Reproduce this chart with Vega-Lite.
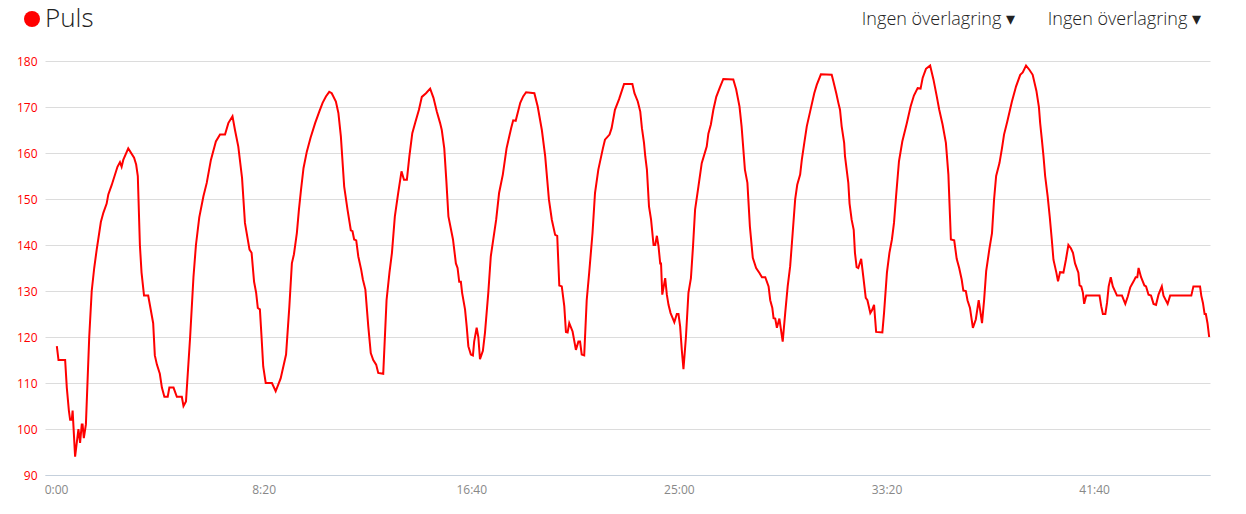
{
  "$schema": "https://vega.github.io/schema/vega-lite/v6.json",
  "width": 1165,
  "height": 414,
  "autosize": {"type": "none"},
  "padding": {"left": 45, "top": 61, "right": 36, "bottom": 39},
  "background": "white",
  "config": {"view": {"stroke": null}, "font": "Open Sans"},
  "title": {
    "text": "Ingen överlagring ▾\u00a0\u00a0\u00a0\u00a0\u00a0\u00a0\u00a0Ingen överlagring ▾",
    "anchor": "end",
    "frame": "group",
    "fontSize": 18,
    "fontWeight": 300,
    "font": "Open Sans Light, Open Sans",
    "color": "#222222",
    "offset": -23,
    "dx": -9
  },
  "data": {"values": [
    {"t":2,"hr":118},{"t":6,"hr":115},{"t":22,"hr":115},{"t":26,"hr":109},{"t":31,"hr":104},{"t":34,"hr":102},{"t":38,"hr":102},{"t":40,"hr":104},{"t":46,"hr":94},{"t":54,"hr":100},{"t":58,"hr":97},{"t":62,"hr":101},{"t":64,"hr":101},{"t":67,"hr":98},{"t":72,"hr":101},{"t":80,"hr":120},{"t":86,"hr":130},{"t":92,"hr":135},{"t":98,"hr":139},{"t":108,"hr":145},{"t":114,"hr":147},{"t":122,"hr":149},{"t":126,"hr":151},{"t":134,"hr":153},{"t":148,"hr":157},{"t":154,"hr":158},{"t":158,"hr":157},{"t":162,"hr":158.5},{"t":174,"hr":161},{"t":188,"hr":159},{"t":193,"hr":157.5},{"t":197,"hr":155},{"t":202,"hr":140},{"t":206,"hr":134},{"t":212,"hr":129},{"t":222,"hr":129},{"t":226,"hr":127},{"t":234,"hr":123},{"t":238,"hr":116},{"t":243,"hr":114},{"t":250,"hr":112},{"t":255,"hr":109},{"t":261,"hr":107},{"t":269,"hr":107},{"t":273,"hr":109},{"t":283,"hr":109},{"t":291,"hr":107},{"t":303,"hr":107},{"t":307,"hr":105},{"t":313,"hr":106},{"t":323,"hr":120},{"t":331,"hr":133},{"t":337,"hr":140},{"t":345,"hr":146},{"t":355,"hr":150.6},{"t":363,"hr":153.5},{"t":373,"hr":158.5},{"t":385,"hr":162.5},{"t":395,"hr":164},{"t":407,"hr":164},{"t":415,"hr":166.5},{"t":425,"hr":168},{"t":431,"hr":165},{"t":439,"hr":161.4},{"t":448,"hr":154.6},{"t":455,"hr":144.8},{"t":466,"hr":139},{"t":471,"hr":138.3},{"t":477,"hr":132},{"t":482,"hr":129.6},{"t":486,"hr":126.3},{"t":491,"hr":126},{"t":495,"hr":120},{"t":499,"hr":113.6},{"t":505,"hr":110},{"t":520,"hr":110},{"t":529,"hr":108.2},{"t":541,"hr":111},{"t":554,"hr":116.2},{"t":562,"hr":126.7},{"t":568,"hr":136},{"t":573,"hr":138},{"t":580,"hr":142.6},{"t":585,"hr":147.7},{"t":590,"hr":152},{"t":596,"hr":156.7},{"t":604,"hr":160.3},{"t":613,"hr":163.3},{"t":624,"hr":166.5},{"t":634,"hr":169},{"t":642,"hr":170.9},{"t":650,"hr":172.3},{"t":658,"hr":173.3},{"t":664,"hr":173},{"t":674,"hr":171.2},{"t":680,"hr":168.7},{"t":686,"hr":163.6},{"t":694,"hr":152.7},{"t":702,"hr":147.7},{"t":710,"hr":143.2},{"t":714,"hr":143},{"t":718,"hr":141.2},{"t":723,"hr":141},{"t":728,"hr":137.5},{"t":735,"hr":134.6},{"t":739,"hr":132.5},{"t":745,"hr":130.3},{"t":752,"hr":122.3},{"t":758,"hr":116.5},{"t":764,"hr":115},{"t":771,"hr":114},{"t":776,"hr":112.2},{"t":788,"hr":112},{"t":796,"hr":128},{"t":803,"hr":134},{"t":809,"hr":138.3},{"t":816,"hr":146.2},{"t":824,"hr":151.3},{"t":832,"hr":156},{"t":838,"hr":154.2},{"t":845,"hr":154.2},{"t":851,"hr":159.3},{"t":858,"hr":164.3},{"t":866,"hr":166.9},{"t":874,"hr":169.4},{"t":881,"hr":172.2},{"t":891,"hr":173},{"t":901,"hr":174},{"t":909,"hr":172},{"t":917,"hr":169},{"t":925,"hr":166.5},{"t":929,"hr":165},{"t":935,"hr":161},{"t":940,"hr":154},{"t":945,"hr":146.2},{"t":956,"hr":141.2},{"t":963,"hr":136},{"t":967,"hr":135},{"t":971,"hr":132},{"t":975,"hr":132},{"t":978,"hr":129.6},{"t":985,"hr":126},{"t":989,"hr":122.3},{"t":993,"hr":118},{"t":999,"hr":116.2},{"t":1004,"hr":116},{"t":1007,"hr":119},{"t":1013,"hr":122},{"t":1017,"hr":120},{"t":1021,"hr":115.2},{"t":1028,"hr":117},{"t":1033,"hr":120.9},{"t":1041,"hr":129.6},{"t":1047,"hr":137.5},{"t":1053,"hr":141.2},{"t":1060,"hr":145.5},{"t":1067,"hr":151.3},{"t":1076,"hr":155.3},{"t":1085,"hr":161},{"t":1096,"hr":165.4},{"t":1101,"hr":167.1},{"t":1107,"hr":167},{"t":1118,"hr":170.9},{"t":1125,"hr":172.3},{"t":1132,"hr":173.2},{"t":1152,"hr":173},{"t":1160,"hr":170.1},{"t":1170,"hr":165},{"t":1178,"hr":159.3},{"t":1187,"hr":149.9},{"t":1194,"hr":145.5},{"t":1202,"hr":142.2},{"t":1207,"hr":142},{"t":1212,"hr":131.2},{"t":1218,"hr":131},{"t":1224,"hr":126.7},{"t":1228,"hr":121.1},{"t":1232,"hr":121},{"t":1236,"hr":123},{"t":1244,"hr":121.2},{"t":1252,"hr":117.2},{"t":1258,"hr":119},{"t":1262,"hr":119},{"t":1266,"hr":116.2},{"t":1272,"hr":116},{"t":1278,"hr":128},{"t":1284,"hr":134},{"t":1292,"hr":142.6},{"t":1298,"hr":151.3},{"t":1306,"hr":156.4},{"t":1317,"hr":161},{"t":1322,"hr":162.9},{"t":1333,"hr":164},{"t":1338,"hr":165.4},{"t":1346,"hr":169.4},{"t":1356,"hr":171.7},{"t":1368,"hr":175},{"t":1388,"hr":175},{"t":1393,"hr":173},{"t":1401,"hr":171.2},{"t":1407,"hr":169},{"t":1411,"hr":165.4},{"t":1416,"hr":162.2},{"t":1419,"hr":159.3},{"t":1423,"hr":156.4},{"t":1428,"hr":148.4},{"t":1433,"hr":145.5},{"t":1439,"hr":140},{"t":1443,"hr":140},{"t":1447,"hr":142},{"t":1451,"hr":139.7},{"t":1455,"hr":136},{"t":1457,"hr":136},{"t":1460,"hr":129.2},{"t":1467,"hr":132.8},{"t":1471,"hr":129.2},{"t":1475,"hr":127},{"t":1480,"hr":125.2},{"t":1485,"hr":124.1},{"t":1489,"hr":123.2},{"t":1495,"hr":125},{"t":1499,"hr":125},{"t":1503,"hr":122.3},{"t":1507,"hr":117.2},{"t":1511,"hr":113},{"t":1517,"hr":120},{"t":1523,"hr":129.6},{"t":1529,"hr":132.8},{"t":1534,"hr":139.7},{"t":1539,"hr":147.7},{"t":1547,"hr":152.7},{"t":1555,"hr":157.8},{"t":1567,"hr":161.4},{"t":1571,"hr":164.2},{"t":1577,"hr":166.2},{"t":1583,"hr":169.4},{"t":1590,"hr":172.2},{"t":1599,"hr":174.3},{"t":1607,"hr":176.1},{"t":1631,"hr":176},{"t":1638,"hr":173.8},{"t":1646,"hr":170.1},{"t":1651,"hr":165.8},{"t":1659,"hr":156.4},{"t":1665,"hr":153.5},{"t":1671,"hr":144},{"t":1678,"hr":137.2},{"t":1686,"hr":135},{"t":1694,"hr":133.9},{"t":1700,"hr":133},{"t":1708,"hr":133},{"t":1716,"hr":131},{"t":1720,"hr":128},{"t":1725,"hr":126.3},{"t":1728,"hr":124.1},{"t":1732,"hr":124},{"t":1736,"hr":122},{"t":1742,"hr":124},{"t":1750,"hr":119},{"t":1756,"hr":125.2},{"t":1762,"hr":131},{"t":1768,"hr":135.4},{"t":1774,"hr":142.6},{"t":1780,"hr":149.9},{"t":1785,"hr":153.1},{"t":1792,"hr":155.3},{"t":1796,"hr":158.5},{"t":1802,"hr":162.2},{"t":1808,"hr":165.8},{"t":1816,"hr":169},{"t":1826,"hr":173},{"t":1832,"hr":174.8},{"t":1842,"hr":177.1},{"t":1868,"hr":177},{"t":1872,"hr":175.6},{"t":1879,"hr":173},{"t":1884,"hr":170.9},{"t":1888,"hr":169.4},{"t":1892,"hr":165.8},{"t":1898,"hr":162.2},{"t":1900,"hr":159.3},{"t":1908,"hr":153.5},{"t":1911,"hr":149},{"t":1916,"hr":145.5},{"t":1921,"hr":143.3},{"t":1924,"hr":138.3},{"t":1928,"hr":135.2},{"t":1932,"hr":135},{"t":1939,"hr":137},{"t":1944,"hr":133.2},{"t":1950,"hr":128.5},{"t":1954,"hr":128},{"t":1961,"hr":125.2},{"t":1965,"hr":125.8},{"t":1970,"hr":127},{"t":1975,"hr":121.1},{"t":1990,"hr":121},{"t":1994,"hr":125.2},{"t":2001,"hr":134},{"t":2007,"hr":138.3},{"t":2013,"hr":141.2},{"t":2018,"hr":144.8},{"t":2023,"hr":150.6},{"t":2030,"hr":158.2},{"t":2038,"hr":162.5},{"t":2049,"hr":166.5},{"t":2058,"hr":170.1},{"t":2066,"hr":172.5},{"t":2075,"hr":174.1},{"t":2082,"hr":174},{"t":2087,"hr":176.3},{"t":2095,"hr":178.3},{"t":2105,"hr":179},{"t":2113,"hr":176},{"t":2121,"hr":172.3},{"t":2127,"hr":169.4},{"t":2135,"hr":166.2},{"t":2143,"hr":162.2},{"t":2149,"hr":155.3},{"t":2155,"hr":141.2},{"t":2163,"hr":141},{"t":2169,"hr":137},{"t":2175,"hr":135},{"t":2181,"hr":132.5},{"t":2185,"hr":130.1},{"t":2191,"hr":130},{"t":2195,"hr":128},{"t":2201,"hr":126.3},{"t":2208,"hr":122},{"t":2215,"hr":123.8},{"t":2222,"hr":128},{"t":2230,"hr":123},{"t":2235,"hr":128},{"t":2240,"hr":134.3},{"t":2248,"hr":139.3},{"t":2254,"hr":142.6},{"t":2259,"hr":149.9},{"t":2264,"hr":155},{"t":2272,"hr":157.8},{"t":2278,"hr":161},{"t":2283,"hr":164},{"t":2291,"hr":166.9},{"t":2302,"hr":171.2},{"t":2312,"hr":174.5},{"t":2322,"hr":177},{"t":2328,"hr":177.5},{"t":2336,"hr":179},{"t":2344,"hr":178.1},{"t":2352,"hr":177},{"t":2361,"hr":173.5},{"t":2367,"hr":170},{"t":2370,"hr":166.5},{"t":2374,"hr":163},{"t":2378,"hr":159.3},{"t":2382,"hr":155},{"t":2388,"hr":150.6},{"t":2393,"hr":146.2},{"t":2398,"hr":141.2},{"t":2402,"hr":136.8},{"t":2409,"hr":134},{"t":2413,"hr":132.1},{"t":2418,"hr":134.1},{"t":2426,"hr":134},{"t":2432,"hr":136.8},{"t":2438,"hr":140},{"t":2444,"hr":139.3},{"t":2449,"hr":138.3},{"t":2454,"hr":136},{"t":2462,"hr":134},{"t":2465,"hr":131.2},{"t":2469,"hr":131},{"t":2473,"hr":129.6},{"t":2476,"hr":127.2},{"t":2481,"hr":129},{"t":2513,"hr":129},{"t":2517,"hr":126.7},{"t":2521,"hr":125},{"t":2527,"hr":125},{"t":2531,"hr":127.4},{"t":2535,"hr":131},{"t":2540,"hr":133},{"t":2545,"hr":131},{"t":2551,"hr":129.8},{"t":2555,"hr":129},{"t":2567,"hr":129},{"t":2575,"hr":127.2},{"t":2581,"hr":128.8},{"t":2587,"hr":130.8},{"t":2595,"hr":132.1},{"t":2600,"hr":133},{"t":2604,"hr":133},{"t":2607,"hr":135},{"t":2613,"hr":133},{"t":2621,"hr":131.2},{"t":2625,"hr":131},{"t":2631,"hr":129.2},{"t":2637,"hr":129},{"t":2643,"hr":127.2},{"t":2649,"hr":127},{"t":2655,"hr":129.2},{"t":2663,"hr":131},{"t":2667,"hr":129},{"t":2677,"hr":127.2},{"t":2683,"hr":129},{"t":2734,"hr":129},{"t":2739,"hr":131},{"t":2755,"hr":131},{"t":2758,"hr":129},{"t":2762,"hr":127.4},{"t":2766,"hr":125},{"t":2769,"hr":125},{"t":2773,"hr":123},{"t":2777,"hr":120}
  ]},
  "transform": [{"calculate": "'Puls'", "as": "serie"}],
  "mark": {"type": "line", "strokeWidth": 2, "interpolate": "linear"},
  "encoding": {
    "x": {
      "field": "t",
      "type": "quantitative",
      "scale": {"domain": [-26.5, 2779], "nice": false, "zero": false},
      "axis": {
        "title": null,
        "values": [0, 500, 1000, 1500, 2000, 2500],
        "labelExpr": "floor(datum.value/60) + ':' + (datum.value % 60 < 10 ? '0' : '') + (datum.value % 60)",
        "grid": false,
        "ticks": false,
        "domainColor": "#c5d0dc",
        "domainWidth": 1,
        "labelColor": "#888888",
        "labelFontSize": 12,
        "labelFont": "Open Sans",
        "labelPadding": 9
      }
    },
    "y": {
      "field": "hr",
      "type": "quantitative",
      "scale": {"domain": [90, 180], "nice": false, "zero": false},
      "axis": {
        "title": null,
        "values": [90, 100, 110, 120, 130, 140, 150, 160, 170, 180],
        "grid": true,
        "gridColor": "#dcdcdc",
        "gridWidth": 1,
        "domain": false,
        "ticks": false,
        "labelColor": "#ff0000",
        "labelFontSize": 12,
        "labelFont": "Open Sans",
        "labelPadding": 8
      }
    },
    "color": {
      "field": "serie",
      "type": "nominal",
      "scale": {"range": ["#ff0000"]},
      "legend": {
        "title": null,
        "orient": "none",
        "legendX": -26,
        "legendY": -55,
        "symbolType": "circle",
        "symbolSize": 256,
        "symbolFillColor": "#ff0000",
        "symbolStrokeWidth": 0,
        "symbolOpacity": 1,
        "labelFontSize": 26,
        "labelFont": "Open Sans Light, Lato Light, Open Sans",
        "labelFontWeight": 300,
        "labelColor": "#222222",
        "labelOffset": 0
      }
    }
  }
}
